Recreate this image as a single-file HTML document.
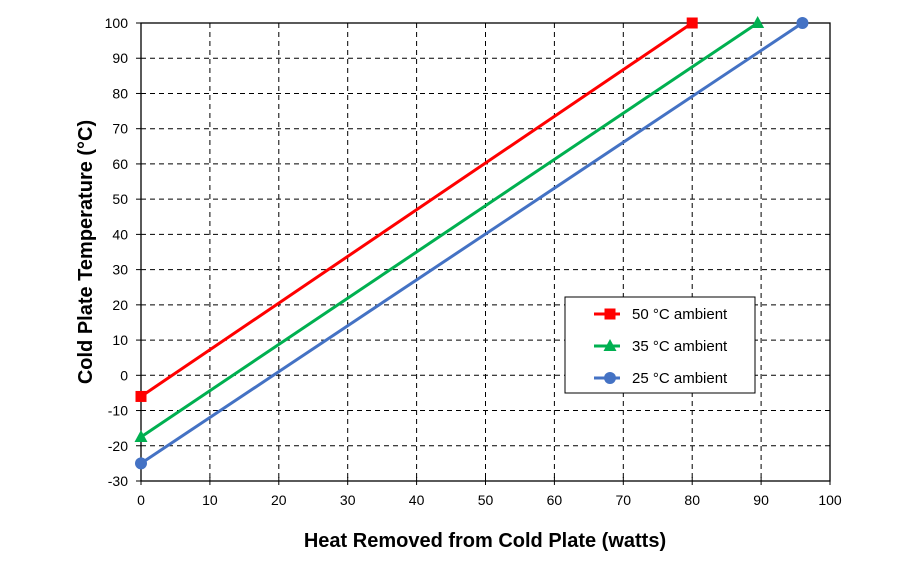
<!DOCTYPE html>
<html><head><meta charset="utf-8"><style>
body{margin:0;background:#fff}
svg text{font-family:"Liberation Sans",Arial,sans-serif}
</style></head><body>
<svg id="chart" width="919" height="559"></svg>
<script>
const xTicks=[0,10,20,30,40,50,60,70,80,90,100];
const yTicks=[-30,-20,-10,0,10,20,30,40,50,60,70,80,90,100];
const seriesNames=["50 °C ambient","35 °C ambient","25 °C ambient"];
const s50x=[0,80], s50y=[-6,100];
const s35x=[0,89.5], s35y=[-17.5,100];
const s25x=[0,96], s25y=[-25,100];
const NS="http://www.w3.org/2000/svg";
const svg=document.getElementById('chart');
const L=141,R=830,T=23,B=481;
const sx=v=>L+(v-0)/(100-0)*(R-L);
const sy=v=>B-(v+30)/130*(B-T);
function el(t,a,p){const e=document.createElementNS(NS,t);for(const k in a)e.setAttribute(k,a[k]);(p||svg).appendChild(e);return e;}
xTicks.forEach(v=>{
 if(v>0&&v<100){const g=el('line',{x1:sx(v),x2:sx(v),y1:T,y2:B,stroke:'#000','stroke-width':1,'stroke-dasharray':'5,4'});
 }
 const t=el('line',{x1:sx(v),x2:sx(v),y1:B-4,y2:B+4,stroke:'#000'});
 
 const l=el('text',{x:sx(v),y:B+24,'text-anchor':'middle','font-size':14});l.textContent=v;
 
});
yTicks.forEach(v=>{
 if(v>-30&&v<100){const g=el('line',{x1:L,x2:R,y1:sy(v),y2:sy(v),stroke:'#000','stroke-width':1,'stroke-dasharray':'5,4'});
 }
 const t=el('line',{x1:L-5,x2:L,y1:sy(v),y2:sy(v),stroke:'#000'});
 
 const l=el('text',{x:L-13,y:sy(v)+5,'text-anchor':'end','font-size':14});l.textContent=v;
 
});
const fr=el('rect',{x:L,y:T,width:R-L,height:B-T,fill:'none',stroke:'#000','stroke-width':1.3});

function marker(kind,x,y,c,p){
 if(kind==='sq')return el('rect',{x:x-5.5,y:y-5.5,width:11,height:11,fill:c},p);
 if(kind==='tri')return el('polygon',{points:`${x},${y-7} ${x+6.5},${y+5} ${x-6.5},${y+5}`,fill:c},p);
 return el('circle',{cx:x,cy:y,r:6,fill:c},p);
}
const S=[[s50x,s50y,'#ff0000','sq','series-50c'],[s35x,s35y,'#00b050','tri','series-35c'],[s25x,s25y,'#4472c4','ci','series-25c']];
S.forEach(([xs,ys,c,k,n])=>{
 const g=el('g',{});
 el('polyline',{points:xs.map((x,i)=>sx(x)+','+sy(ys[i])).join(' '),fill:'none',stroke:c,'stroke-width':3,'stroke-linejoin':'round'},g);
 xs.forEach((x,i)=>{const m=marker(k,sx(x),sy(ys[i]),c,g);});
});
const lg=el('g',{});
el('rect',{x:565,y:297,width:190,height:96,fill:'#fff',stroke:'#000'},lg);
S.forEach(([xs,ys,c,k],i)=>{
 const y=314+i*32;
 const e=el('g',{},lg);
 el('line',{x1:594,x2:620,y1:y,y2:y,stroke:c,'stroke-width':3},e);
 marker(k,610,y,c,e);
 const t=el('text',{x:632,y:y+5,'font-size':15},e);t.textContent=seriesNames[i];
});
const xt=el('text',{x:485,y:547,'text-anchor':'middle','font-size':20,'font-weight':'bold'});xt.textContent='Heat Removed from Cold Plate (watts)';

const yt=el('text',{x:0,y:0,'text-anchor':'middle','font-size':20,'font-weight':'bold',transform:`translate(92,${(T+B)/2}) rotate(-90)`});yt.textContent='Cold Plate Temperature (°C)';

</script>
</body></html>
